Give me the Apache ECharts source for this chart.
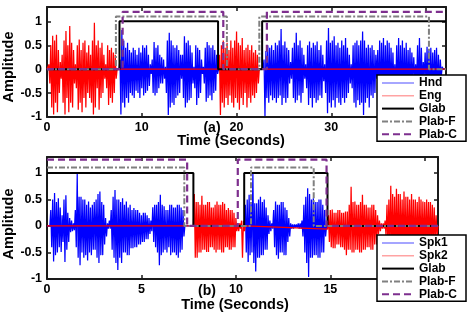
<!DOCTYPE html>
<html><head><meta charset="utf-8">
<script src="https://cdn.jsdelivr.net/npm/echarts@6/dist/echarts.min.js"></script>
<style>html,body{margin:0;padding:0;background:#fff}#c{width:469px;height:326px}</style>
</head><body><div id="c"></div>
<script>
// ---------- axes / ticks ----------
const xMaxA = 42.1, xMaxB = 20.7;
const yMin = -1, yMax = 1.3;
const xTicksA = [0, 10, 20, 30, 40];
const xTicksB = [0, 5, 10, 15, 20];
const yTicks = [-1, -0.5, 0, 0.5, 1];
const dtA = 0.1, dtB = 0.05;

// ---------- panel (a) waveforms (amplitude samples) ----------
const engStartA = [0.2, 18.2];
const engA1 = [.1,-.3,.5,-.8,.7,-.95,.6,-.7,.72,-.9,.4,-.5,.15,-.2,.3,-.7,.6,-.95,.8,-.6,.5,-.9,.9,-.7,.55,-.8,.4,-.3,.1,-.4,.5,-.85,.62,-.7,.4,-.9,.55,-.6,.6,-.8,.35,-.5,.5,-.6,.3,-.7,.6,-.95,.97,-.8,.5,-.4,.6,-.85,.45,-.6,.55,-.5,.3,-.2,.1,-.4,.5,-.75,.4,-.6,.45,-.7,.35,-.5,.3,-.2];
const engA2 = [.3,-.96,.5,-.7,.6,-.8,.45,-.6,.55,-.75,.4,-.55,.6,-.7,.45,-.8,.6,-.6,.79,-.7,.55,-.85,.5,-.6,.65,-.75,.4,-.5,.45,-.8,.51,-.6,.4,-.7,.5,-.55,.35,-.6,.4,-.5,.3,-.3];
const hndStartA = [7.7, 22.9];
const hndA1 = [.2,-.95,.82,-.7,.6,-.8,.45,-.6,.55,-.7,.4,-.5,.35,-.55,.45,-.6,.4,-.45,.3,-.5,.45,-.6,.35,-.4,.5,-.55,.45,-.5,.5,-.45,.3,-.35,.1,-.1,.2,-.5,.57,-.55,.45,-.5,.5,-.4,.3,-.3,.25,-.3,.2,-.2,.05,-.5,.6,-.96,.76,-.8,.6,-.7,.5,-.75,.45,-.6,.5,-.55,.4,-.5,.3,-.2,.3,-.6,.69,-.8,.55,-.7,.6,-.65,.5,-.6,.35,-.3,.05,-.4,.5,-.75,.45,-.6,.4,-.5,.2,-.1,.05,-.3,.45,-.68,.57,-.6,.5,-.55,.45,-.65,.5,-.5,.4,-.45,.3,-.1];
const hndA2 = [.2,-.98,.38,-.6,.5,-.7,.45,-.55,.5,-.65,.4,-.6,.55,-.7,.5,-.6,.6,-.55,.84,-.75,.5,-.6,.58,-.7,.45,-.6,.4,-.3,.15,-.2,.45,-.6,.55,-.7,.76,-.65,.5,-.55,.6,-.7,.45,-.5,.3,-.2,.1,-.4,.5,-.75,.58,-.6,.45,-.8,.55,-.6,.5,-.7,.58,-.65,.4,-.55,.5,-.6,.3,-.25,.1,-.5,.6,-.92,.86,-.7,.55,-.8,.6,-.65,.69,-.8,.5,-.6,.55,-.7,.45,-.75,.6,-.6,.5,-.7,.65,-.6,.45,-.5,.3,-.3,.1,-.4,.5,-.7,.55,-.8,.6,-.65,.5,-.75,.6,-.7,.79,-.96,.6,-.7,.45,-.6,.51,-.8,.45,-.55,.5,-.6,.4,-.5,.3,-.2,.4,-.6,.6,-.7,.55,-.6,.65,-.7,.5,-.6,.6,-.65,.55,-.6,.45,-.5,.35,-.3,.1,-.4,.5,-.6,.65,-.7,.5,-.6,.6,-.65,.45,-.6,.55,-.6,.4,-.5,.45,-.5,.35,-.3,.25,-.2,.1,-.3,.5,-.6,.65,-.55,.45,-.3,.15,-.15,.35,-.45,.47,-.5,.4,-.45,.45,-.5,.35,-.45,.4,-.4,.45,-.45,.3,-.35,.2,-.15,.05];

// ---------- panel (b) waveforms ----------
const spk1StartB = [0.2, 10.5];
const spk1B1 = [.3,-.4,.5,-.67,.62,-.55,.45,-.5,.52,-.4,.35,-.49,.2,-.3,.5,-.68,.58,-.45,.25,-.3,.15,-.12,.1,-.1,.05,-.08,.3,-.4,.98,-.6,.55,-.74,.55,-.5,.5,-.6,.5,-.55,.4,-.65,.46,-.5,.35,-.55,.4,-.45,.45,-.45,.5,-.6,.6,-.7,.65,-.55,.45,-.55,.4,-.35,.15,-.2,.05,-.05,.1,-.05,.3,-.45,.55,-.6,.68,-.7,.5,-.83,.5,-.6,.45,-.7,.52,-.5,.4,-.5,.46,-.55,.35,-.55,.4,-.42,.3,-.42,.34,-.4,.3,-.4,.3,-.35,.25,-.35,.2,-.3,.25,-.3,.25,-.25,.2,-.25,.15,-.15,.1,-.1,.35,-.3,.4,-.4,.4,-.5,.45,-.74,.59,-.55,.4,-.5,.37,-.45,.3,-.5,.3,-.4,.4,-.55,.4,-.5,.35,-.5,.35,-.55,.4,-.6,.4,-.5,.35,-.45,.3,-.2];
const spk1B2 = [.4,-.5,.5,-.68,.59,-.55,.45,-.5,1.0,-.7,.43,-.86,.43,-.6,.5,-.6,.55,-.55,.45,-.55,.5,-.45,.35,-.45,.2,-.15,.1,-.1,.05,-.05,.3,-.4,.46,-.55,.4,-.62,.4,-.5,.45,-.5,.45,-.55,.35,-.55,.3,-.3,.15,-.2,.05,-.05,.03,-.05,.03,-.03,.03,-.03,.05,-.05,.05,-.05,.1,-.2,.4,-.5,.55,-.7,.71,-.96,.6,-.6,.5,-.6,.52,-.55,.45,-.55,.45,-.6,.5,-.6,.5,-.5,.4,-.5,.3,-.2];
const spk2StartB = [7.8, 14.9];
const spk2B1 = [.6,-.6,.45,-.6,.45,-.5,.4,-.5,.57,-.45,.4,-.45,.4,-.49,.45,-.49,.45,-.4,.35,-.4,.35,-.45,.4,-.5,.46,-.45,.4,-.45,.4,-.5,.45,-.5,.42,-.4,.3,-.4,.34,-.45,.3,-.45,.3,-.4,.25,-.4,.15,-.1,.05,-.1,.05,-.05,.1,-.6,.1,-.1];
const spk2B2 = [.2,-.3,.3,-.4,.31,-.42,.25,-.42,.25,-.35,.3,-.35,.3,-.4,.25,-.4,.25,-.45,.27,-.55,.27,-.45,.4,-.45,.74,-.5,.45,-.5,.46,-.45,.4,-.45,.4,-.5,.45,-.5,.59,-.45,.4,-.45,.4,-.4,.35,-.4,.35,-.45,.4,-.45,.4,-.35,.3,-.35,.2,-.15,.1,-.1,.05,-.05,.05,-.05,.1,-.2,.4,-.4,.5,-.5,.76,-.6,.6,-.55,.55,-.55,.7,-.6,.6,-.6,.6,-.5,.5,-.5,.65,-.6,.55,-.6,.55,-.5,.5,-.5,.6,-.55,.5,-.55,.5,-.5,.45,-.5,.55,-.5,.5,-.5,.46,-.5,.45,-.5,.5,-.45,.45,-.45,.45,-.4,.4,-.4,.35,-.3,.2,-.2];
const spk2GapEnd = [0, -0.06];

// ---------- label step functions [time, level] ----------
const glabA  = [[0,0],[7.65,1],[18.05,0],[22.7,1],[42.1,1]];
const plabFA = [[0,0],[7.27,1.1],[18.98,0],[22.4,1.1],[40.3,0],[42.1,0]];
const plabCA = [[0,0],[7.98,1.2],[18.6,0],[23.2,1.2],[42.1,1.2]];
const glabB  = [[0,1],[7.75,0],[10.44,1],[14.85,0],[20.7,0]];
const plabFB = [[0,1.1],[7.27,0],[10.8,1.1],[14.12,0],[20.7,0]];
const plabCB = [[0,1.25],[7.42,0],[10.1,1.25],[14.8,0],[20.7,0]];

function wave(starts, segs, dt, xMax, gapEnd) {
  const d = [[0, 0]];
  segs.forEach((s, k) => {
    const t0 = starts[k];
    d.push([+(t0 - dt).toFixed(3), gapEnd ? gapEnd[k] : 0]);
    s.forEach((v, i) => d.push([+(t0 + i * dt).toFixed(3), v]));
    d.push([+(t0 + s.length * dt).toFixed(3), 0]);
  });
  d.push([xMax, 0]);
  return d;
}

const F = '"Liberation Sans", Arial, Helvetica, sans-serif';
const AX = '#1a1a1a';
const BLUE = '#0000ff', RED = '#ff0000', GRAY = '#808080', PURPLE = '#7e2f8e';
const NONE = 'rgba(0,0,0,0)';

function xAx(g, max, ticks, pos, lab) {
  return {
    type: 'value', gridIndex: g, min: 0, max: max, interval: ticks[1] - ticks[0], position: pos,
    axisLine: { show: true, onZero: false, lineStyle: { color: AX, width: 2 } },
    axisTick: { show: true, inside: true, length: 4, lineStyle: { color: AX, width: 1.5 } },
    axisLabel: { show: lab, margin: 4, fontSize: 12.5, fontWeight: 'bold', color: '#000', fontFamily: F,
      showMaxLabel: false, formatter: v => ticks.includes(v) ? String(v) : '' },
    splitLine: { show: false }
  };
}
function yAx(g, pos, lab) {
  return {
    type: 'value', gridIndex: g, min: yMin, max: yMax, interval: 0.5, position: pos,
    axisLine: { show: true, onZero: false, lineStyle: { color: AX, width: 2 } },
    axisTick: { show: true, inside: true, length: 4, lineStyle: { color: AX, width: 1.5 } },
    axisLabel: { show: lab, margin: 5, fontSize: 12.5, fontWeight: 'bold', color: '#000', fontFamily: F,
      showMaxLabel: false, formatter: v => yTicks.includes(v) ? String(v) : '' },
    splitLine: { show: false }
  };
}
function wav(name, data, color, g) {
  return { name, type: 'line', xAxisIndex: g * 2, yAxisIndex: g * 2, data, symbol: 'none', showSymbol: false,
    lineStyle: { color, width: 1.25 }, itemStyle: { color }, silent: true, animation: false };
}
function stp(name, data, color, type, width, g) {
  return { name, type: 'line', step: 'end', xAxisIndex: g * 2, yAxisIndex: g * 2, data, symbol: 'none', showSymbol: false,
    lineStyle: { color, width, type }, itemStyle: { color }, silent: true, animation: false };
}
function leg(top, names, c1, c2) {
  return {
    orient: 'vertical', left: 377, top: top, itemWidth: 32, itemHeight: 14, itemGap: 0.8,
    padding: [2, 9, 1, 4], backgroundColor: '#fff', borderColor: '#000', borderWidth: 1.5,
    selectedMode: false,
    itemStyle: { color: NONE, borderColor: NONE, borderWidth: 0 },
    textStyle: { fontSize: 12, fontWeight: 'bold', color: '#000', fontFamily: F },
    data: [
      { name: names[0], lineStyle: { color: c1, width: 1.2 } },
      { name: names[1], lineStyle: { color: c2, width: 1.2 } },
      { name: 'Glab' }, { name: 'Plab-F' }, { name: 'Plab-C' }
    ]
  };
}
function txt(x, y, s, size, rot) {
  return { type: 'text', x, y, rotation: rot || 0, z: 100,
    style: { text: s, fill: '#000', font: 'bold ' + size + 'px ' + F, align: 'center', verticalAlign: 'middle' } };
}

const chart = echarts.init(document.getElementById('c'), null, { renderer: 'canvas' });
chart.setOption({
  animation: false,
  backgroundColor: '#fff',
  grid: [
    { left: 47, top: 7, width: 399, height: 110 },
    { left: 47, top: 157, width: 391, height: 122 }
  ],
  xAxis: [xAx(0, xMaxA, xTicksA, 'bottom', true), xAx(0, xMaxA, xTicksA, 'top', false),
          xAx(1, xMaxB, xTicksB, 'bottom', true), xAx(1, xMaxB, xTicksB, 'top', false)],
  yAxis: [yAx(0, 'left', true), yAx(0, 'right', false), yAx(1, 'left', true), yAx(1, 'right', false)],
  legend: [leg(75, ['Hnd', 'Eng'], '#6a6aff', '#ff8c8c'), leg(235, ['Spk1', 'Spk2'], '#6a6aff', '#ff8c8c')],
  graphic: [
    txt(9, 67, 'Amplitude', 14.5, Math.PI / 2),
    txt(212, 128, '(a)', 14, 0),
    txt(231, 141, 'Time (Seconds)', 14.5, 0),
    txt(9, 224, 'Amplitude', 14.5, Math.PI / 2),
    txt(207, 291, '(b)', 14, 0),
    txt(235, 305, 'Time (Seconds)', 14.5, 0)
  ],
  series: [
    wav('Hnd', wave(hndStartA, [hndA1, hndA2], dtA, xMaxA), BLUE, 0),
    wav('Eng', wave(engStartA, [engA1, engA2], dtA, xMaxA), RED, 0),
    stp('Glab', glabA, '#000', 'solid', 2, 0),
    stp('Plab-F', plabFA, GRAY, [6, 2, 2, 2], 2, 0),
    stp('Plab-C', plabCA, PURPLE, [7, 4], 2.2, 0),
    wav('Spk1', wave(spk1StartB, [spk1B1, spk1B2], dtB, xMaxB), BLUE, 1),
    wav('Spk2', wave(spk2StartB, [spk2B1, spk2B2], dtB, xMaxB, spk2GapEnd), RED, 1),
    stp('Glab', glabB, '#000', 'solid', 2, 1),
    stp('Plab-F', plabFB, GRAY, [6, 2, 2, 2], 2, 1),
    stp('Plab-C', plabCB, PURPLE, [7, 4], 2.2, 1)
  ]
});
</script></body></html>
